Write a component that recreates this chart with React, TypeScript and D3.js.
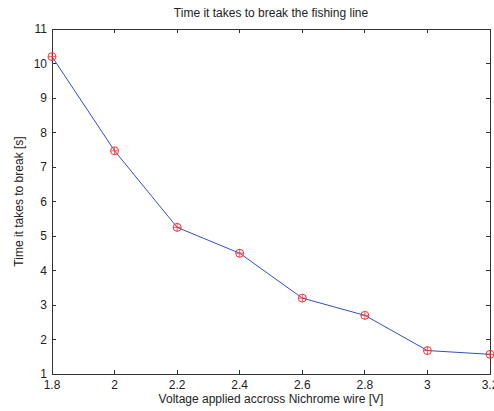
import React from "react";
import * as d3 from "d3";

const voltages = [1.8, 2.0, 2.2, 2.4, 2.6, 2.8, 3.0, 3.2];
const times = [10.2, 7.47, 5.25, 4.5, 3.2, 2.7, 1.68, 1.57];
const xTicks = [1.8, 2, 2.2, 2.4, 2.6, 2.8, 3, 3.2];
const yTicks = [1, 2, 3, 4, 5, 6, 7, 8, 9, 10, 11];

const W = 494, H = 411;
const L = 52, R = 490, T = 29, B = 374;

export default function App() {
  const x = d3.scaleLinear().domain([1.8, 3.2]).range([L, R]);
  const y = d3.scaleLinear().domain([1, 11]).range([B, T]);
  const line = d3.line<number>().x((_, i) => x(voltages[i])).y((d) => y(d));
  const font = "Liberation Sans, Arial, sans-serif";
  const axisColor = "#333";
  return (
    <svg width={W} height={H} style={{ position: "absolute", left: 0, top: 0, background: "#fff" }}>
      <rect x={0} y={0} width={W} height={H} fill="#fff" />
      <rect x={L} y={T} width={R - L} height={B - T} fill="#fff" stroke={axisColor} strokeWidth={1} shapeRendering="crispEdges" />
      {xTicks.map((t) => (
        <g key={"x" + t}>
          <line x1={x(t)} x2={x(t)} y1={B} y2={B - 4} stroke={axisColor} shapeRendering="crispEdges" />
          <line x1={x(t)} x2={x(t)} y1={T} y2={T + 4} stroke={axisColor} shapeRendering="crispEdges" />
          <text x={x(t)} y={B + 15} textAnchor="middle" fontFamily={font} fontSize={12} fill="#222">{t}</text>
        </g>
      ))}
      {yTicks.map((t) => (
        <g key={"y" + t}>
          <line x1={L} x2={L + 4} y1={y(t)} y2={y(t)} stroke={axisColor} shapeRendering="crispEdges" />
          <line x1={R} x2={R - 4} y1={y(t)} y2={y(t)} stroke={axisColor} shapeRendering="crispEdges" />
          <text x={L - 5} y={y(t) + 4} textAnchor="end" fontFamily={font} fontSize={12} fill="#222">{t}</text>
        </g>
      ))}
      <path d={line(times) || ""} fill="none" stroke="#3050c0" strokeWidth={1} />
      {times.map((v, i) => {
        const cx = x(voltages[i]);
        const cy = y(v);
        return (
          <g key={"m" + i}>
            <circle cx={cx} cy={cy} r={4} fill="none" stroke="#ff3030" strokeWidth={1} />
            <line x1={cx - 4} x2={cx + 4} y1={cy} y2={cy} stroke="#ff3030" strokeWidth={0.8} />
            <line x1={cx} x2={cx} y1={cy - 4} y2={cy + 4} stroke="#ff3030" strokeWidth={0.8} />
          </g>
        );
      })}
      <text x={(L + R) / 2} y={17} textAnchor="middle" fontFamily={font} fontSize={12} fill="#222">Time it takes to break the fishing line</text>
      <text x={(L + R) / 2} y={403} textAnchor="middle" fontFamily={font} fontSize={12} fill="#222">Voltage applied accross Nichrome wire [V]</text>
      <text transform={`translate(23,${(T + B) / 2}) rotate(-90)`} textAnchor="middle" fontFamily={font} fontSize={12} fill="#222">Time it takes to break [s]</text>
    </svg>
  );
}
